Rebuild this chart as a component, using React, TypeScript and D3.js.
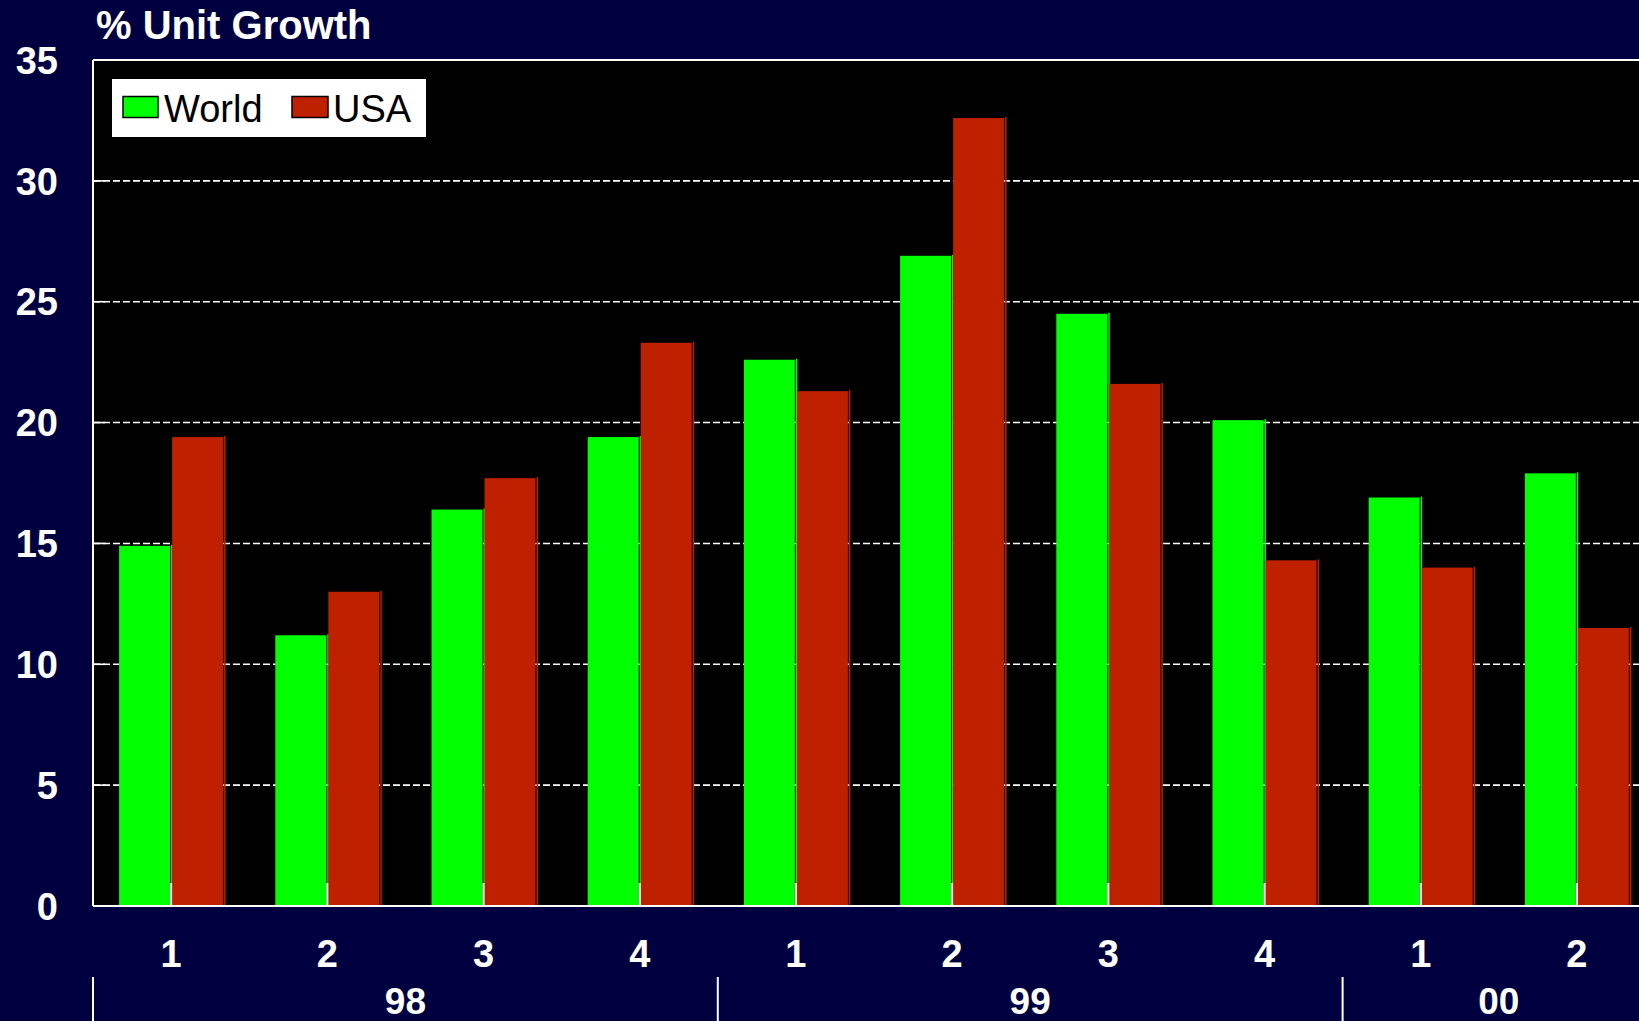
import React from "react";
import * as d3 from "d3";

const quarters = ["1", "2", "3", "4", "1", "2", "3", "4", "1", "2"];
const years = ["98", "99", "00"];
const yearSpans = [4, 4, 2];
const seriesNames = ["World", "USA"];
const worldValues = [14.9, 11.2, 16.4, 19.4, 22.6, 26.9, 24.5, 20.1, 16.9, 17.9];
const usaValues = [19.4, 13.0, 17.7, 23.3, 21.3, 32.6, 21.6, 14.3, 14.0, 11.5];
const yTicks = [0, 5, 10, 15, 20, 25, 30, 35];
const colors = ["#00FF00", "#BF2000"];

const W = 1639;
const H = 1021;
const left = 93;
const right = 1655;
const top = 60;
const bottom = 906;
const FONT = "'Liberation Sans', Arial, Helvetica, sans-serif";

export default function App() {
  const x = d3.scaleBand<number>().domain(d3.range(quarters.length)).range([left, right]).padding(0);
  const xs = d3.scaleBand<string>().domain(seriesNames).range([-52, 52]).paddingInner(0.04);
  const y = d3.scaleLinear().domain([0, 35]).range([bottom, top]);
  const step = x.bandwidth();
  const data = [worldValues, usaValues];

  const yearBounds: { label: string; start: number; end: number }[] = [];
  let idx = 0;
  years.forEach((yl, k) => {
    const start = left + idx * step;
    idx += yearSpans[k];
    const end = left + idx * step;
    yearBounds.push({ label: yl, start, end });
  });

  return (
    <svg
      width={W}
      height={H}
      style={{ position: "fixed", left: 0, top: 0, display: "block" }}
      fontFamily={FONT}
    >
      <rect x={0} y={0} width={W} height={H} fill="#000040" />
      <rect x={left} y={top} width={right - left} height={bottom - top} fill="#000000" />
      {yTicks.filter((t) => t > 0 && t < 35).map((t) => (
        <g key={t}>
          <line x1={left} x2={right} y1={y(t)} y2={y(t)} stroke="#FFFFFF" strokeWidth={1.6} strokeDasharray="7 3" />
          <line x1={left} x2={left + 12} y1={y(t)} y2={y(t)} stroke="#FFFFFF" strokeWidth={1.6} />
        </g>
      ))}
      {data.map((vals, s) =>
        vals.map((v, i) => {
          const c = (x(i) as number) + step / 2;
          const bx = c + (xs(seriesNames[s]) as number);
          const bw = xs.bandwidth();
          return (
            <g key={`${s}-${i}`}>
              <rect x={bx + bw + 1} y={y(v) - 1} width={1.5} height={bottom - y(v) + 2} fill={colors[s]} />
              <rect x={bx} y={y(v)} width={bw} height={bottom - y(v) + 1} fill={colors[s]} />
            </g>
          );
        })
      )}
      {quarters.map((_, i) => {
        const c = (x(i) as number) + step / 2;
        return <line key={i} x1={c} x2={c} y1={bottom} y2={bottom - 23} stroke="#FFFFFF" strokeWidth={2} />;
      })}
      <line x1={left} x2={right} y1={top} y2={top} stroke="#FFFFFF" strokeWidth={2} />
      <line x1={left} x2={left} y1={top} y2={bottom} stroke="#FFFFFF" strokeWidth={2} />
      <line x1={left} x2={right} y1={bottom} y2={bottom} stroke="#FFFFFF" strokeWidth={2} />
      {yTicks.map((t) => (
        <text key={t} x={58} y={y(t)} dy="0.36em" textAnchor="end" fill="#FFFFFF" fontSize={38} fontWeight="bold">
          {t}
        </text>
      ))}
      <text x={96} y={39} fill="#FFFFFF" fontSize={40} fontWeight="bold">% Unit Growth</text>
      {quarters.map((q, i) => (
        <text key={i} x={(x(i) as number) + step / 2} y={967} textAnchor="middle" fill="#FFFFFF" fontSize={38} fontWeight="bold">
          {q}
        </text>
      ))}
      {yearBounds.map((b, k) => (
        <g key={k}>
          <line x1={b.start} x2={b.start} y1={977} y2={H} stroke="#FFFFFF" strokeWidth={2} />
          <text x={(b.start + b.end) / 2} y={1014} textAnchor="middle" fill="#FFFFFF" fontSize={37} fontWeight="bold">
            {b.label}
          </text>
        </g>
      ))}
      <rect x={112} y={79} width={314} height={58} fill="#FFFFFF" />
      <rect x={123} y={96.5} width={35} height={21} fill={colors[0]} stroke="#000000" strokeWidth={1.5} />
      <text x={164} y={122} fill="#000000" fontSize={38}>{seriesNames[0]}</text>
      <rect x={292} y={96.5} width={36} height={21} fill={colors[1]} stroke="#000000" strokeWidth={1.5} />
      <text x={333} y={122} fill="#000000" fontSize={38}>{seriesNames[1]}</text>
    </svg>
  );
}
